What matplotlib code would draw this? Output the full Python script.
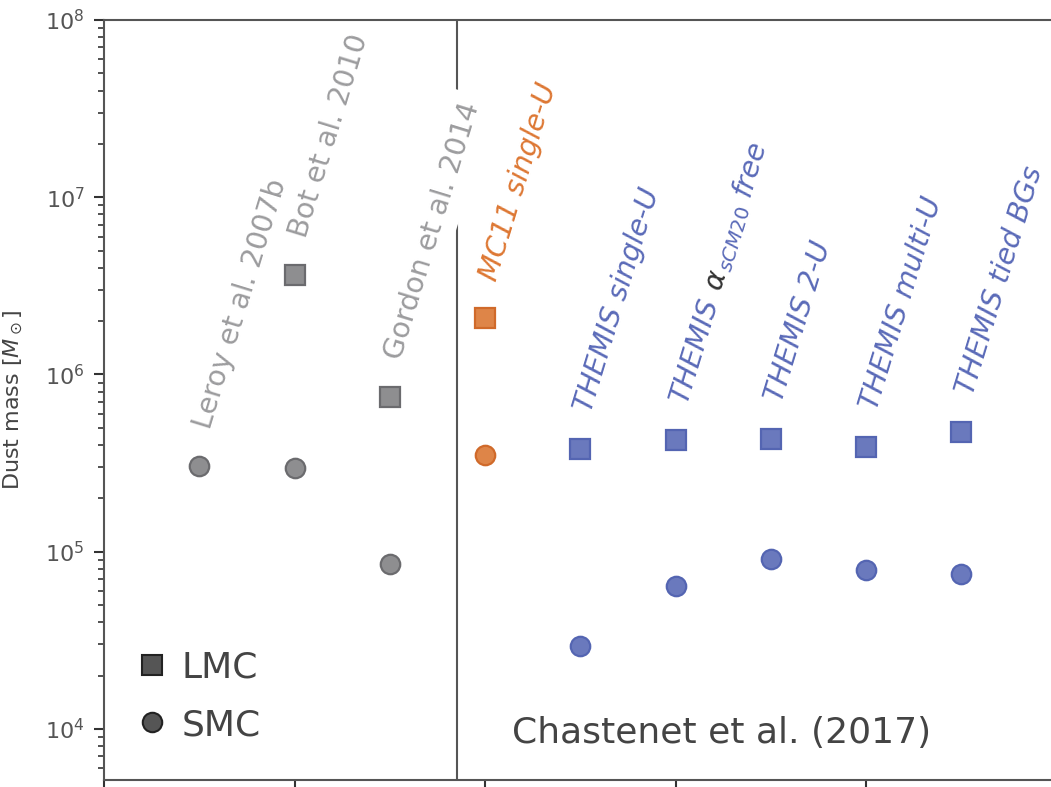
import numpy as np
import matplotlib
matplotlib.use("Agg")
import matplotlib.pyplot as plt
from matplotlib.lines import Line2D

# ---- data ----
labels = ["Leroy et al. 2007b", "Bot et al. 2010", "Gordon et al. 2014",
          "MC11 single-U", "THEMIS single-U", "THEMIS_ALPHA",
          "THEMIS 2-U", "THEMIS multi-U", "THEMIS tied BGs"]
lmc_mass = [np.nan, 3.64e6, 7.46e5, 2.08e6, 3.80e5, 4.27e5, 4.32e5, 3.90e5, 4.74e5]
smc_mass = [3.05e5, 2.97e5, 8.5e4, 3.51e5, 2.94e4, 6.41e4, 9.1e4, 7.9e4, 7.5e4]
groups = ["lit", "lit", "lit", "mc11", "themis", "themis", "themis", "themis", "themis"]
x_pos = np.arange(1, len(labels) + 1)
divider_x = 3.71

face = {"lit": "#8e8e90", "mc11": "#de8548", "themis": "#6a79bd"}
edge = {"lit": "#6b6b6e", "mc11": "#d06a2a", "themis": "#5465b2"}
tcol = {"lit": "#9c9c9e", "mc11": "#dd7733", "themis": "#5a6ab8"}
tstyle = {"lit": "normal", "mc11": "italic", "themis": "italic"}

dpi = 100
fig = plt.figure(figsize=(10.51, 7.87), dpi=dpi)
ax = fig.add_axes([104 / 1051, 7 / 787, 947 / 1051, 760 / 787])

ax.set_yscale("log")
ax.set_ylim(5.15e3, 1e8)
ax.set_xlim(0, 9.94)

spine_c = "#555555"
for s in ["left", "top", "bottom"]:
    ax.spines[s].set_color(spine_c)
    ax.spines[s].set_linewidth(1.5)
ax.spines["right"].set_visible(False)

ax.set_xticks([0, 2, 4, 6, 8])
ax.set_xticklabels([])
ax.tick_params(axis="x", direction="out", length=7, width=1.5, color="#333333")
ax.tick_params(axis="y", which="major", direction="out", length=7, width=1.5,
               color="#333333", labelsize=16, labelcolor="#555555", pad=7)
ax.tick_params(axis="y", which="minor", direction="out", length=4, width=1.2,
               color="#333333")

ax.set_ylabel(r"Dust mass [$M_\odot$]", fontsize=16, color="#444444")
ax.yaxis.set_label_coords(-0.083, 0.5)

ax.axvline(divider_x, color=spine_c, lw=1.5, zorder=1)

ms = 14
for xi, l, s, g in zip(x_pos, lmc_mass, smc_mass, groups):
    ax.plot([xi], [l], marker="s", ms=ms, mfc=face[g], mec=edge[g], mew=1.6,
            ls="none", zorder=3, clip_on=False)
    ax.plot([xi], [s], marker="o", ms=ms, mfc=face[g], mec=edge[g], mew=1.6,
            ls="none", zorder=3, clip_on=False)

rot = 73
fs = 20.5
th = np.deg2rad(rot)
off_dx, off_dy = 8.0, 26.0  # points, from top marker to text baseline start

renderer = fig.canvas.get_renderer()


def width_pts(s, **kw):
    t = fig.text(0, 0, s, fontsize=fs, **kw)
    w = t.get_window_extent(renderer=renderer).width
    t.remove()
    return w * 72.0 / dpi


for xi, lab, l, s, g in zip(x_pos, labels, lmc_mass, smc_mass, groups):
    ytop = np.nanmax([l, s])
    kw = dict(xy=(xi, ytop), textcoords="offset points", rotation=rot,
              rotation_mode="anchor", ha="left", va="baseline", fontsize=fs,
              zorder=2)
    if lab == "THEMIS_ALPHA":
        parts = [("THEMIS", tcol[g], "italic"),
                 (r"$\alpha$", "#333333", "normal"),
                 (r"${}_{sCM20}$", tcol[g], "normal"),
                 ("free", tcol[g], "italic")]
        space = 0.318 * fs
        d = 0.0
        for i, (txt, c, st) in enumerate(parts):
            ax.annotate(txt, xytext=(off_dx + d * np.cos(th), off_dy + d * np.sin(th)),
                        color=c, style=st, **kw)
            d += width_pts(txt, style=st)
            if i in (0, 2):
                d += space
            elif i == 1:
                d += 0.5
        continue
    extra = {}
    if lab.startswith("Gordon"):
        extra["bbox"] = dict(boxstyle="square,pad=0.3", fc="white", ec="none")
    ax.annotate(lab, xytext=(off_dx, off_dy), color=tcol[g], style=tstyle[g],
                **kw, **extra)

handles = [Line2D([], [], marker="s", ls="none", ms=14, mfc="#555555", mec="#222222", mew=1.5),
           Line2D([], [], marker="o", ls="none", ms=14, mfc="#555555", mec="#222222", mew=1.5)]
leg = ax.legend(handles, ["LMC", "SMC"], loc="lower left",
                bbox_to_anchor=(0.0354, 0.05), borderaxespad=0, borderpad=0,
                frameon=False, fontsize=26, handletextpad=0.43, labelspacing=0.65,
                handlelength=0.8)
for t in leg.get_texts():
    t.set_color("#444444")

ax.text(0.6526, 0.062, "Chastenet et al. (2017)", transform=ax.transAxes,
        fontsize=26, color="#444444", ha="center", va="center")

fig.savefig("out.png", dpi=dpi)
